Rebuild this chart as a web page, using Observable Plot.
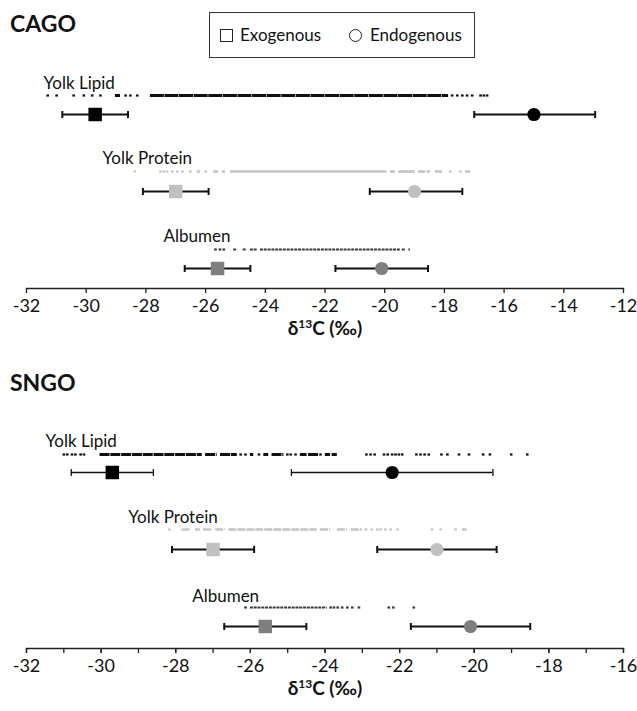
<!DOCTYPE html>
<html><head><meta charset="utf-8">
<script src="https://cdn.jsdelivr.net/npm/d3@7"></script>
<script src="https://cdn.jsdelivr.net/npm/@observablehq/plot@0.6"></script>
<style>
body{margin:0;background:#fff;font-family:Lato,"Open Sans",sans-serif;color:#111;}
#wrap{position:relative;width:637px;height:711px;overflow:hidden;}
.abs{position:absolute;}
.title{font-weight:bold;font-size:23px;line-height:24px;}
.axt{font-weight:bold;font-size:19px;line-height:20px;width:140px;text-align:center;}
.axt sup{font-size:12px;vertical-align:7px;line-height:0;}
.legend{border:1.5px solid #333;box-sizing:border-box;}
.lt{font-size:17px;line-height:20px;}
svg{overflow:visible;display:block;}
</style></head><body><div id="wrap">
<div class="abs title" style="left:10px;top:11px;">CAGO</div>
<div class="abs legend" style="left:209px;top:12px;width:266px;height:46px;">
  <div class="abs" style="left:10px;top:16px;width:11px;height:11px;border:1.3px solid #222;"></div>
  <div class="abs lt" style="left:30px;top:12px;">Exogenous</div>
  <div class="abs" style="left:139px;top:16px;width:11px;height:11px;border:1.3px solid #222;border-radius:50%;"></div>
  <div class="abs lt" style="left:160px;top:12px;">Endogenous</div>
</div>
<div id="cago" class="abs" style="left:0;top:60px;"></div>
<div class="abs axt" style="left:255px;top:318px;">δ<sup>13</sup>C (‰)</div>
<div class="abs title" style="left:10px;top:370px;">SNGO</div>
<div id="sngo" class="abs" style="left:0;top:410px;"></div>
<div class="abs axt" style="left:255px;top:678px;">δ<sup>13</sup>C (‰)</div>
</div>
<script>
// ---- data ----
const rows = ["Yolk Lipid", "Yolk Protein", "Albumen"];
const markerColors = ["#000000", "#c0c0c0", "#7f7f7f"];
const dotColors = ["#111111", "#c4c4c4", "#3a3a3a"];

// CAGO
const cagoExoMean = [-29.7, -27.0, -25.6];
const cagoExoLo = [-30.8, -28.1, -26.7];
const cagoExoHi = [-28.6, -25.9, -24.5];
const cagoEndoMean = [-15.0, -19.0, -20.1];
const cagoEndoLo = [-17.0, -20.5, -21.65];
const cagoEndoHi = [-12.95, -17.4, -18.55];
const cagoLabelX = [-31.43, -29.45, -27.41];
const cagoTicks = [-32, -30, -28, -26, -24, -22, -20, -18, -16, -14, -12];

const cagoLipidSingles = [-31.29, -30.99, -30.42, -30.08, -29.80, -29.52, -28.68, -28.52, -28.29, -17.74, -17.57, -17.40, -17.24, -17.07, -16.79, -16.68, -16.57];
const cagoLipidRuns = [[-29.02, -28.85], [-27.85, -17.86]];
const cagoProteinSingles = [-28.37, -27.51, -27.40, -27.29, -27.12, -26.95, -26.78, -26.51, -26.0, -17.80, -17.46];
const cagoProteinRuns = [[-26.28, -26.17], [-25.73, -25.56], [-25.44, -25.33], [-25.17, -19.92], [-19.81, -19.64], [-19.53, -18.97], [-18.86, -18.63], [-18.58, -18.47], [-18.30, -18.07], [-17.29, -17.12]];
const cagoAlbumenSingles = [-25.67, -25.52, -25.39];
const cagoAlbumenRuns = [[-25.06, -24.94], [-24.74, -24.61], [-24.50, -24.27], [-24.16, -19.47], [-19.41, -19.30], [-19.19, -19.14]];

// SNGO
const sngoExoMean = [-29.7, -27.0, -25.6];
const sngoExoLo = [-30.8, -28.1, -26.7];
const sngoExoHi = [-28.6, -25.9, -24.5];
const sngoEndoMean = [-22.2, -21.0, -20.1];
const sngoEndoLo = [-24.9, -22.6, -21.7];
const sngoEndoHi = [-19.5, -19.4, -18.5];
const sngoLabelX = [-31.49, -29.27, -27.56];
const sngoTicks = [-32, -30, -28, -26, -24, -22, -20, -18, -16];
const sngoMinorTicks = [-32, -31, -30, -29, -28, -27, -26, -25, -24, -23, -22, -21, -20, -19, -18, -17, -16];

const sngoLipidSingles = [-31.0, -30.91, -30.78, -30.69, -30.55, -30.46, -26.26, -26.13, -25.77, -25.01, -24.92, -24.79, -24.12, -22.89, -22.78, -22.67, -22.42, -22.32, -22.20, -22.11, -22.02, -21.93, -21.55, -21.44, -21.33, -21.22, -20.88, -20.72, -20.41, -20.14, -19.76, -19.58, -19.01, -18.58];
const sngoLipidRuns = [[-30.03, -27.29], [-27.20, -26.89], [-26.80, -26.35], [-26.0, -25.91], [-25.64, -25.51], [-25.42, -25.10], [-24.66, -24.48], [-24.44, -24.17], [-23.99, -23.85], [-23.81, -23.67]];
const sngoProteinSingles = [-28.17, -22.9, -22.75, -22.6, -22.51, -22.38, -22.24, -22.06, -21.13, -20.90, -20.50];
const sngoProteinRuns = [[-27.83, -27.60], [-27.47, -27.34], [-27.25, -27.02], [-26.93, -26.67], [-26.58, -24.21], [-24.12, -23.85], [-23.67, -23.40], [-23.30, -23.00], [-20.32, -20.19]];
const sngoAlbumenSingles = [-26.13, -23.85, -23.76, -23.66, -23.54, -23.40, -23.27, -23.09, -22.29, -22.17, -21.62];
const sngoAlbumenRuns = [[-26.0, -23.94]];

// ---- symbols ----
const vbar = {draw(ctx, size) { const h = Math.sqrt(size / Math.PI); ctx.moveTo(0, -h); ctx.lineTo(0, h); }};
const dash = {draw(ctx, size) { ctx.rect(-1.3, -1.1, 2.6, 2.2); }};

function panel(o) {
  const bars = [];
  rows.forEach((r, i) => {
    bars.push({row: r, kind: "exo", mean: o.exoMean[i], lo: o.exoLo[i], hi: o.exoHi[i], color: markerColors[i]});
    bars.push({row: r, kind: "endo", mean: o.endoMean[i], lo: o.endoLo[i], hi: o.endoHi[i], color: markerColors[i]});
  });
  const runs = [], singles = [];
  rows.forEach((r, i) => {
    o.runs[i].forEach(([a, b]) => runs.push({row: r, a, b, color: dotColors[i]}));
    o.singles[i].forEach(v => singles.push({row: r, v, color: dotColors[i]}));
  });
  const labels = rows.map((r, i) => ({row: r, x: o.labelX[i]}));
  const marks = [
    Plot.frame({anchor: "bottom", stroke: "#222", strokeWidth: 1.3}),
    Plot.axisX({ticks: o.ticks, tickSize: 5, tickPadding: 6, fontSize: 18, label: null, stroke: "#222", strokeWidth: 1.3, tickFormat: d => String(d)}),
  ];
  if (o.minorTicks) marks.push(Plot.axisX({ticks: o.minorTicks, tickSize: 5, tickFormat: () => "", label: null, stroke: "#222", strokeWidth: 1.3}));
  rows.forEach((r, i) => {
    marks.push(Plot.ruleY(runs.filter(d => d.row === r), {y: "row", x1: "a", x2: "b", dy: o.dotDy[i], stroke: "color", strokeWidth: o.runW[i], strokeDasharray: o.dash[i]}));
    marks.push(Plot.dot(singles.filter(d => d.row === r), {x: "v", y: "row", dy: o.dotDy[i], symbol: dash, fill: "color", stroke: null, r: 2}));
    marks.push(Plot.text(labels.filter(d => d.row === r), {x: "x", y: "row", text: "row", textAnchor: "start", fontSize: 17, fill: "#111", fontFamily: "Lato", dy: o.labelDy[i]}));
  });
  rows.forEach((r, i) => {
    const b = bars.filter(d => d.row === r);
    marks.push(
      Plot.ruleY(b, {y: "row", x1: "lo", x2: "hi", stroke: "#111", strokeWidth: o.barW[i]}),
      Plot.dot(b, {x: "lo", y: "row", symbol: vbar, r: 3.5, stroke: "#111", fill: "none", strokeWidth: o.barW[i]}),
      Plot.dot(b, {x: "hi", y: "row", symbol: vbar, r: 3.5, stroke: "#111", fill: "none", strokeWidth: o.barW[i]})
    );
  });
  marks.push(
    Plot.dot(bars.filter(d => d.kind === "exo"), {x: "mean", y: "row", symbol: "square", r: 7.6, fill: "color", stroke: null}),
    Plot.dot(bars.filter(d => d.kind === "endo"), {x: "mean", y: "row", symbol: "circle", r: 6.6, fill: "color", stroke: null})
  );
  return Plot.plot({
    width: 637, height: o.height,
    marginLeft: 26, marginRight: 14, marginTop: 0, marginBottom: o.marginBottom,
    style: {fontFamily: "Lato", color: "#111", background: "transparent"},
    x: {domain: o.domain},
    y: {type: "point", domain: rows, range: o.yRange, padding: 0, axis: null},
    marks
  });
}

document.getElementById("cago").append(panel({
  exoMean: cagoExoMean, exoLo: cagoExoLo, exoHi: cagoExoHi,
  endoMean: cagoEndoMean, endoLo: cagoEndoLo, endoHi: cagoEndoHi,
  labelX: cagoLabelX, ticks: cagoTicks, domain: [-32, -12],
  runs: [cagoLipidRuns, cagoProteinRuns, cagoAlbumenRuns],
  singles: [cagoLipidSingles, cagoProteinSingles, cagoAlbumenSingles],
  runW: [3, 2.6, 2], dash: ["14,0.6", null, "3,0.8"], dotDy: [-19, -20, -19], labelDy: [-31, -33, -32], barW: [2, 2, 2],
  height: 258, marginBottom: 30, yRange: [53, 208]
}));

document.getElementById("sngo").append(panel({
  exoMean: sngoExoMean, exoLo: sngoExoLo, exoHi: sngoExoHi,
  endoMean: sngoEndoMean, endoLo: sngoEndoLo, endoHi: sngoEndoHi,
  labelX: sngoLabelX, ticks: sngoTicks, minorTicks: sngoMinorTicks, domain: [-32, -16],
  runs: [sngoLipidRuns, sngoProteinRuns, sngoAlbumenRuns],
  singles: [sngoLipidSingles, sngoProteinSingles, sngoAlbumenSingles],
  runW: [3, 2.4, 2], dash: ["10,0.8", "8,1", "3,0.8"], dotDy: [-18, -20, -19], labelDy: [-31, -32, -30], barW: [1.3, 2, 2],
  height: 266, marginBottom: 28, yRange: [61, 216]
}));
</script>
</body></html>
